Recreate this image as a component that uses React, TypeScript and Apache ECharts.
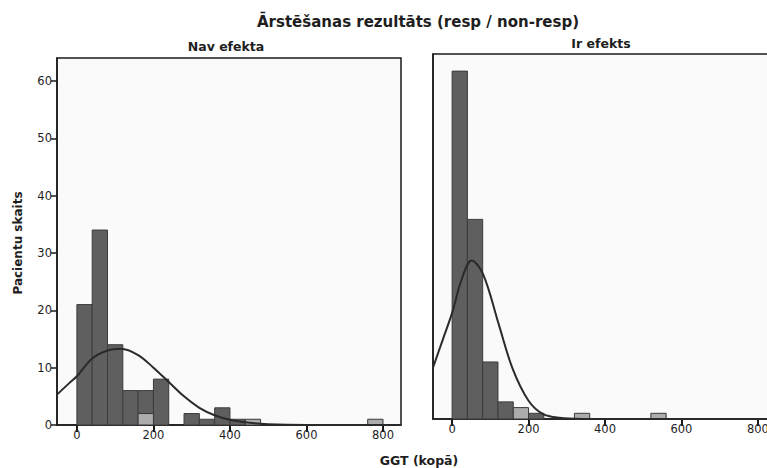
import React, { useEffect, useRef } from "react";
import * as echarts from "echarts";

// Histogram bins of GGT (kopā), 40 units wide; only non-empty bins listed.
const BIN_WIDTH = 40;

// "Nav efekta" panel
const noEffectBinStart = [0, 40, 80, 120, 160, 200, 280, 320, 360, 400, 440, 760];
const noEffectSolid = [21, 34, 14, 6, 4, 8, 2, 1, 3, 1, 0, 0];
const noEffectHatched = [0, 0, 0, 0, 2, 0, 0, 0, 0, 0, 1, 1];

// "Ir efekts" panel
const effectBinStart = [0, 40, 80, 120, 160, 200, 320, 520];
const effectSolid = [61, 35, 10, 3, 0, 1, 0, 0];
const effectHatched = [0, 0, 0, 0, 2, 0, 1, 1];

// Fitted normal curves, sampled as (GGT, count) pairs
const noEffectCurveX = [-52, -20, 0, 40, 80, 115, 160, 200, 240, 280, 320, 360, 400, 450, 500, 600, 847];
const noEffectCurveY = [5.3, 7.3, 8.5, 11.6, 13.0, 13.3, 12.2, 10.0, 7.5, 5.0, 3.0, 1.7, 0.9, 0.4, 0.15, 0.02, 0];
const effectCurveX = [-50, -25, 0, 25, 51, 81, 122, 159, 200, 237, 281, 340, 850];
const effectCurveY = [9.0, 13.8, 18.6, 24.5, 27.8, 25.4, 16.6, 8.7, 3.2, 0.9, 0.2, 0.02, 0];

const xTicks = [0, 200, 400, 600, 800];
const yTicks = [0, 10, 20, 30, 40, 50, 60];

const TEXT = "#1e1e1e";
const AXIS = "#1a1a1a";
const FONT = "DejaVu Sans";

function barRows(starts: number[], solid: number[], hatched: number[]) {
  const solidRows: number[][] = [];
  const hatchedRows: number[][] = [];
  starts.forEach((s, i) => {
    if (hatched[i] > 0) hatchedRows.push([s, s + BIN_WIDTH, 0, hatched[i]]);
    if (solid[i] > 0) solidRows.push([s, s + BIN_WIDTH, hatched[i], hatched[i] + solid[i]]);
  });
  return { solidRows, hatchedRows };
}

function rectRenderer(fill: string, stroke: string) {
  return (params: any, api: any) => {
    const p0 = api.coord([api.value(0), api.value(3)]);
    const p1 = api.coord([api.value(1), api.value(2)]);
    return {
      type: "rect",
      shape: { x: p0[0], y: p0[1], width: p1[0] - p0[0], height: p1[1] - p0[1] },
      style: { fill, stroke, lineWidth: 1 },
    };
  };
}

export default function App() {
  const ref = useRef<HTMLDivElement>(null);

  useEffect(() => {
    if (!ref.current) return;
    const chart = echarts.init(ref.current, undefined, { renderer: "svg" });

    const left = barRows(noEffectBinStart, noEffectSolid, noEffectHatched);
    const right = barRows(effectBinStart, effectSolid, effectHatched);

    const gridCommon = {
      show: true,
      backgroundColor: "#fafafa",
      borderColor: AXIS,
      borderWidth: 1.5,
      containLabel: false,
    };

    const xAxisCommon = {
      type: "value" as const,
      axisLine: { show: true, onZero: false, lineStyle: { color: AXIS, width: 1.5 } },
      axisTick: { show: true, length: 7, inside: false, customValues: xTicks, lineStyle: { color: AXIS, width: 2 } },
      axisLabel: { customValues: xTicks, color: TEXT, fontFamily: FONT, fontSize: 11.5, margin: 4 },
      splitLine: { show: false },
    };

    const solidFill = "#5f5f5f";
    const solidStroke = "#3c3c3c";
    const hatchFill = "#acacac";
    const hatchStroke = "#383838";

    const boldFont = (size: number) => `bold ${size}px "${FONT}"`;

    chart.setOption({
      animation: false,
      backgroundColor: "#ffffff",
      grid: [
        { ...gridCommon, left: 57, top: 58, width: 344, height: 367 },
        // the second panel runs on past the visible right edge of the figure
        { ...gridCommon, left: 433, top: 54, width: 344, height: 365 },
      ],
      xAxis: [
        { ...xAxisCommon, gridIndex: 0, min: -52, max: 847 },
        { ...xAxisCommon, gridIndex: 1, min: -50, max: 850 },
      ],
      yAxis: [
        {
          type: "value",
          gridIndex: 0,
          min: 0,
          max: 64,
          axisLine: { show: true, onZero: false, lineStyle: { color: AXIS, width: 1.5 } },
          axisTick: { show: true, length: 6, inside: false, customValues: yTicks, lineStyle: { color: AXIS, width: 1.5 } },
          axisLabel: { customValues: yTicks, color: TEXT, fontFamily: FONT, fontSize: 11.5, margin: 5 },
          splitLine: { show: false },
        },
        {
          type: "value",
          gridIndex: 1,
          min: 0,
          max: 64,
          axisLine: { show: true, onZero: false, lineStyle: { color: AXIS, width: 1.5 } },
          axisTick: { show: false },
          axisLabel: { show: false },
          splitLine: { show: false },
        },
      ],
      series: [
        {
          type: "custom",
          name: "Nav efekta",
          xAxisIndex: 0,
          yAxisIndex: 0,
          data: left.solidRows,
          renderItem: rectRenderer(solidFill, solidStroke),
        },
        {
          type: "custom",
          name: "Nav efekta (cits)",
          xAxisIndex: 0,
          yAxisIndex: 0,
          data: left.hatchedRows,
          renderItem: rectRenderer(hatchFill, hatchStroke),
        },
        {
          type: "custom",
          name: "Ir efekts",
          xAxisIndex: 1,
          yAxisIndex: 1,
          data: right.solidRows,
          renderItem: rectRenderer(solidFill, solidStroke),
        },
        {
          type: "custom",
          name: "Ir efekts (cits)",
          xAxisIndex: 1,
          yAxisIndex: 1,
          data: right.hatchedRows,
          renderItem: rectRenderer(hatchFill, hatchStroke),
        },
        {
          type: "line",
          xAxisIndex: 0,
          yAxisIndex: 0,
          smooth: 0.35,
          symbol: "none",
          lineStyle: { color: "#2a2a2a", width: 2 },
          data: noEffectCurveX.map((x, i) => [x, noEffectCurveY[i]]),
          z: 5,
        },
        {
          type: "line",
          xAxisIndex: 1,
          yAxisIndex: 1,
          smooth: 0.35,
          symbol: "none",
          lineStyle: { color: "#2a2a2a", width: 2 },
          data: effectCurveX.map((x, i) => [x, effectCurveY[i]]),
          z: 5,
        },
      ],
      graphic: [
        {
          type: "text",
          x: 418,
          y: 14,
          style: {
            text: "Ārstēšanas rezultāts (resp / non-resp)",
            fill: TEXT,
            font: boldFont(15),
            textAlign: "center",
            textVerticalAlign: "top",
          },
        },
        {
          type: "text",
          x: 226,
          y: 40,
          style: {
            text: "Nav efekta",
            fill: TEXT,
            font: boldFont(12.5),
            textAlign: "center",
            textVerticalAlign: "top",
          },
        },
        {
          type: "text",
          x: 601,
          y: 37,
          style: {
            text: "Ir efekts",
            fill: TEXT,
            font: boldFont(12.5),
            textAlign: "center",
            textVerticalAlign: "top",
          },
        },
        {
          type: "text",
          x: 419,
          y: 454,
          style: {
            text: "GGT (kopā)",
            fill: TEXT,
            font: boldFont(12.5),
            textAlign: "center",
            textVerticalAlign: "top",
          },
        },
        {
          type: "text",
          x: 12,
          y: 243,
          rotation: Math.PI / 2,
          style: {
            text: "Pacientu skaits",
            fill: TEXT,
            font: boldFont(12),
            textAlign: "center",
            textVerticalAlign: "top",
          },
        },
      ],
    });

    return () => chart.dispose();
  }, []);

  return (
    <div
      style={{
        position: "fixed",
        left: 0,
        top: 0,
        width: 767,
        height: 468,
        overflow: "hidden",
        background: "#fff",
      }}
    >
      <div ref={ref} style={{ width: 800, height: 468 }} />
    </div>
  );
}
